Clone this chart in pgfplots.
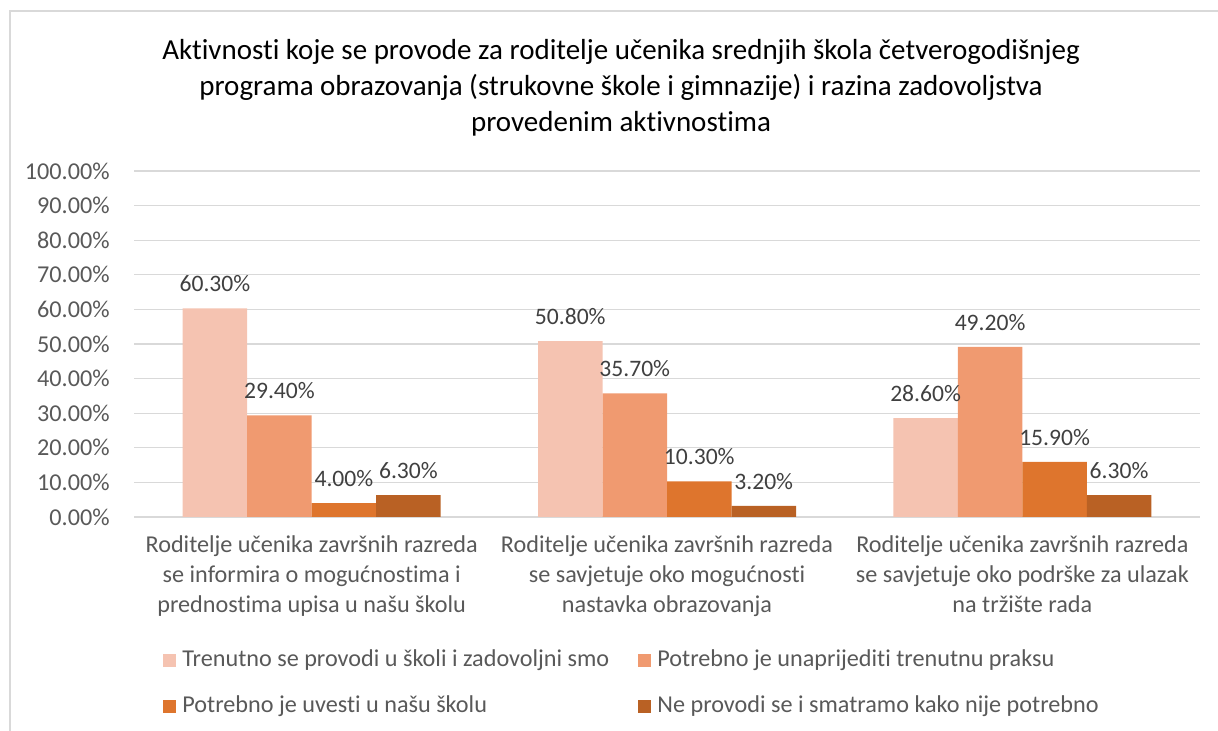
\documentclass[border=0pt]{standalone}
\usepackage{fontspec}
\setmainfont{Carlito}[Ligatures={NoCommon}]
\usepackage{pgfplots}
\pgfplotsset{compat=1.18}
\definecolor{c1}{RGB}{245,195,177}
\definecolor{c2}{RGB}{240,154,112}
\definecolor{c3}{RGB}{222,117,45}
\definecolor{c4}{RGB}{185,97,36}
\definecolor{gridgray}{RGB}{217,217,217}
\definecolor{tickgray}{RGB}{89,89,89}
\definecolor{labgray}{RGB}{64,64,64}
\begin{document}
\begin{tikzpicture}
\useasboundingbox (0,0) rectangle (609pt,365.5pt);
\draw[gridgray, line width=0.8pt] (5pt,0) -- (5pt,360pt) -- (609pt,360pt);
\node[align=center, font=\fontsize{14.5}{18}\selectfont, text=black] at (310.5pt,321.5pt)
 {Aktivnosti koje se provode za roditelje učenika srednjih škola četverogodišnjeg\\programa obrazovanja (strukovne škole i gimnazije) i razina zadovoljstva\\provedenim aktivnostima};
\begin{axis}[
 at={(67pt,107pt)}, anchor=south west, scale only axis,
 width=533pt, height=173pt,
 ybar=0pt, bar width=32.25pt,
 xmin=-0.5, xmax=2.5, ymin=0, ymax=100,
 xtick={0,1,2},
 xticklabels={{Roditelje učenika završnih razreda\\se informira o mogućnostima i\\prednostima upisa u našu školu},
  {Roditelje učenika završnih razreda\\se savjetuje oko mogućnosti\\nastavka obrazovanja},
  {Roditelje učenika završnih razreda\\se savjetuje oko podrške za ulazak\\na tržište rada}},
 xticklabel style={align=center, font=\fontsize{12.1}{15}\selectfont, text=tickgray, inner sep=0pt, yshift=-9pt},
 ytick={0,10,...,100},
 yticklabel={\pgfmathprintnumber[fixed,fixed zerofill,precision=2]{\tick}\%},
 yticklabel style={font=\fontsize{12.1}{14}\selectfont, text=tickgray, anchor=east, inner sep=0pt, xshift=-12pt},
 /pgf/number format/assume math mode=true,
 major tick length=0pt,
 axis line style={draw=none},
 ymajorgrids, grid style={gridgray, line width=0.6pt},
 nodes near coords={\pgfmathprintnumber[fixed,fixed zerofill,precision=2]{\pgfplotspointmeta}\%},
 nodes near coords style={font=\fontsize{11.8}{14}\selectfont, text=labgray, anchor=south, inner sep=0pt, yshift=8pt},
 legend columns=2,
 legend image code/.code={\draw[#1,draw=none] (0pt,-3.25pt) rectangle (6.5pt,3.25pt);},
 legend style={draw=none, at={(0.0272,-0.384)}, anchor=north west, inner sep=0pt,
   font=\fontsize{12.1}{14}\selectfont, text=tickgray,
   nodes={inner sep=0pt, text height=8pt, text depth=2.5pt},
   row sep=12.5pt,
   /tikz/every odd column/.style={column sep=3pt}},
 legend cell align=left,
]
\addplot[fill=c1, draw=none] coordinates {(0,60.3) (1,50.8) (2,28.6)};
\addlegendentry{\makebox[228pt][l]{Trenutno se provodi u školi i zadovoljni smo}}
\addplot[fill=c2, draw=none] coordinates {(0,29.4) (1,35.7) (2,49.2)};
\addlegendentry{Potrebno je unaprijediti trenutnu praksu}
\addplot[fill=c3, draw=none] coordinates {(0,4.0) (1,10.3) (2,15.9)};
\addlegendentry{\makebox[228pt][l]{Potrebno je uvesti u našu školu}}
\addplot[fill=c4, draw=none] coordinates {(0,6.3) (1,3.2) (2,6.3)};
\addlegendentry{Ne provodi se i smatramo kako nije potrebno}
\end{axis}
\end{tikzpicture}
\end{document}
